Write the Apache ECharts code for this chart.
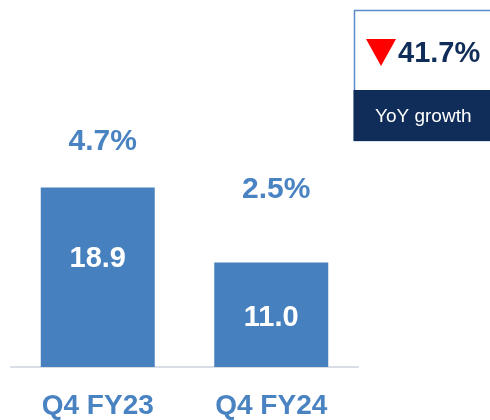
<!DOCTYPE html>
<html>
<head>
<meta charset="utf-8">
<script src="https://cdn.jsdelivr.net/npm/echarts@6/dist/echarts.min.js"></script>
<style>
  html, body { margin: 0; padding: 0; background: #ffffff; }
  #chart { width: 490px; height: 420px; }
</style>
</head>
<body>
<div id="chart"></div>
<script>
// Quarterly figures and margin for each quarter
const quarters = ['Q4 FY23', 'Q4 FY24'];
const values = [18.9, 11.0];
const margins = [4.7, 2.5];
const yoyGrowth = -41.7;
const yoyCaption = 'YoY growth';

const BAR = '#4780BE';
const LABEL_BLUE = '#4A83C2';
const NAVY = '#0F2D58';
const FONT = '"Liberation Sans", Arial, sans-serif';

// label nudges for the value text inside each bar
const innerLabelShift = [-18, 3];

const chart = echarts.init(document.getElementById('chart'), null, { renderer: 'canvas' });

const barData = values.map((v, i) => ({
  value: v,
  label: { offset: [0, innerLabelShift[i]] }
}));

chart.setOption({
  animation: false,
  grid: { left: 11, right: 132, top: 82, bottom: 52, containLabel: false },
  xAxis: {
    type: 'category',
    data: quarters,
    axisLine: { show: true, lineStyle: { color: '#D9DEE6', width: 2 } },
    axisTick: { show: false },
    axisLabel: {
      color: LABEL_BLUE,
      fontFamily: FONT,
      fontWeight: 'bold',
      fontSize: 28,
      margin: 25
    }
  },
  yAxis: [
    { type: 'value', min: 0, max: 30, show: false },
    { type: 'value', min: -4.7, max: 8.4, show: false }
  ],
  series: [
    {
      type: 'bar',
      data: barData,
      barWidth: '65.7%',
      itemStyle: { color: BAR },
      label: {
        show: true,
        position: 'inside',
        color: '#ffffff',
        fontFamily: FONT,
        fontWeight: 'bold',
        fontSize: 29,
        formatter: p => p.value.toFixed(1)
      }
    },
    {
      // margin percentages, placed on a hidden secondary scale
      type: 'scatter',
      yAxisIndex: 1,
      data: margins,
      symbolSize: 1,
      itemStyle: { color: 'rgba(0,0,0,0)', opacity: 1 },
      emphasis: { disabled: true },
      label: {
        show: true,
        position: 'top',
        distance: 5,
        offset: [5, 0],
        color: LABEL_BLUE,
        fontFamily: FONT,
        fontWeight: 'bold',
        fontSize: 30,
        formatter: p => p.value.toFixed(1) + '%'
      }
    }
  ],
  graphic: [
    {
      type: 'rect',
      shape: { x: 354.5, y: 10.5, width: 140, height: 130 },
      style: { fill: '#ffffff', stroke: '#5B8BC8', lineWidth: 1.5 }
    },
    {
      type: 'rect',
      shape: { x: 353.5, y: 90, width: 140, height: 51 },
      style: { fill: NAVY }
    },
    {
      type: 'polygon',
      shape: { points: [[366, 39], [396, 39], [381, 66]] },
      style: { fill: '#FF0000' }
    },
    {
      type: 'text',
      left: 398, top: 39,
      style: {
        text: Math.abs(yoyGrowth).toFixed(1) + '%',
        fill: NAVY,
        font: 'bold 29px ' + FONT
      }
    },
    {
      type: 'text',
      left: 375, top: 107,
      style: {
        text: yoyCaption,
        fill: '#ffffff',
        font: '19px ' + FONT
      }
    }
  ]
});
</script>
</body>
</html>
